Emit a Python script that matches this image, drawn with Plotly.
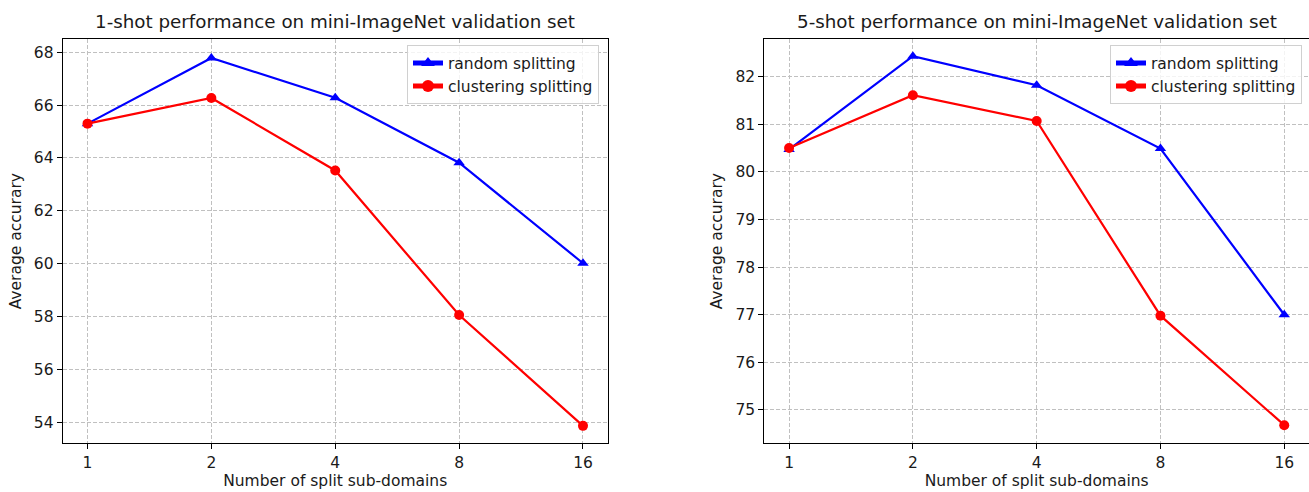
import plotly.graph_objects as go

categories = ["1", "2", "4", "8", "16"]
random_1shot = [65.3, 67.78, 66.28, 63.82, 60.02]
cluster_1shot = [65.3, 66.27, 63.53, 58.06, 53.87]
random_5shot = [80.47, 82.43, 81.82, 80.49, 77.0]
cluster_5shot = [80.5, 81.61, 81.07, 76.98, 74.68]

titles = ["1-shot performance on mini-ImageNet validation set",
          "5-shot performance on mini-ImageNet validation set"]
series_names = ["random splitting", "clustering splitting"]
x_title = "Number of split sub-domains"
y_title = "Average accurary"

FONT = "DejaVu Sans"
TXT = "#1a1a1a"
BLUE = "#0000ff"
RED = "#ff0000"
FS = 15.5

fig = go.Figure()

def add_pair(rand, clus, xa, ya, legend):
    fig.add_trace(go.Scatter(x=categories, y=rand, name=series_names[0], mode="lines+markers",
                             line=dict(color=BLUE, width=2.2),
                             marker=dict(symbol="triangle-up", size=10, color=BLUE),
                             xaxis=xa, yaxis=ya, legend=legend))
    fig.add_trace(go.Scatter(x=categories, y=clus, name=series_names[1], mode="lines+markers",
                             line=dict(color=RED, width=2.2),
                             marker=dict(symbol="circle", size=10, color=RED),
                             xaxis=xa, yaxis=ya, legend=legend))

add_pair(random_1shot, cluster_1shot, "x", "y", "legend")
add_pair(random_5shot, cluster_5shot, "x2", "y2", "legend2")

tickfont = dict(family=FONT, size=FS, color=TXT)
GRID = "#c0c0c0"
common_x = dict(type="category", range=[-0.2, 4.2], showline=True, mirror=True,
                linecolor="black", linewidth=1.2, ticks="outside", ticklen=5,
                tickcolor="black", showgrid=True, gridcolor=GRID, griddash="4px,2px",
                gridwidth=1, zeroline=False, tickfont=tickfont, automargin=False,
                title=dict(text=x_title, font=dict(family=FONT, size=FS, color=TXT), standoff=4))
common_y = dict(showline=True, mirror=True, linecolor="black", linewidth=1.2,
                ticks="outside", ticklen=5, tickcolor="black", showgrid=True,
                gridcolor=GRID, griddash="4px,2px", gridwidth=1, zeroline=False,
                tickfont=tickfont, automargin=False,
                title=dict(text=y_title, font=dict(family=FONT, size=FS, color=TXT), standoff=8))

legend_common = dict(font=dict(family=FONT, size=FS, color=TXT), bgcolor="rgba(255,255,255,0.8)",
                     bordercolor="#d0d0d0", borderwidth=1, xanchor="right", yanchor="top",
                     tracegroupgap=0, itemsizing="constant")

fig.update_layout(
    width=1309, height=492,
    margin=dict(l=0, r=0, t=0, b=0),
    paper_bgcolor="white", plot_bgcolor="white",
    font=dict(family=FONT, size=FS, color=TXT),
    xaxis=dict(common_x, domain=[0.0479, 0.4643], anchor="y"),
    yaxis=dict(common_y, domain=[0.099, 0.9207], range=[53.21, 68.5], dtick=2, anchor="x"),
    xaxis2=dict(common_x, domain=[0.5839, 1.0], anchor="y2"),
    yaxis2=dict(common_y, domain=[0.099, 0.9207], range=[74.30, 82.79], dtick=1, anchor="x2"),
    legend=dict(legend_common, x=599 / 1309, y=1 - 45.3 / 492),
    legend2=dict(legend_common, x=1302 / 1309, y=1 - 45.3 / 492),
    showlegend=True,
    annotations=[
        dict(text=titles[0], x=0.2561, y=1 - 21 / 492, xref="paper", yref="paper",
             showarrow=False, font=dict(family=FONT, size=18.3, color=TXT),
             xanchor="center", yanchor="middle"),
        dict(text=titles[1], x=0.792, y=1 - 21 / 492, xref="paper", yref="paper",
             showarrow=False, font=dict(family=FONT, size=18.3, color=TXT),
             xanchor="center", yanchor="middle"),
    ],
)

fig.write_html("out.html", config={"displayModeBar": False},
               post_script="document.body.style.margin='0px';document.body.style.overflow='hidden';")
